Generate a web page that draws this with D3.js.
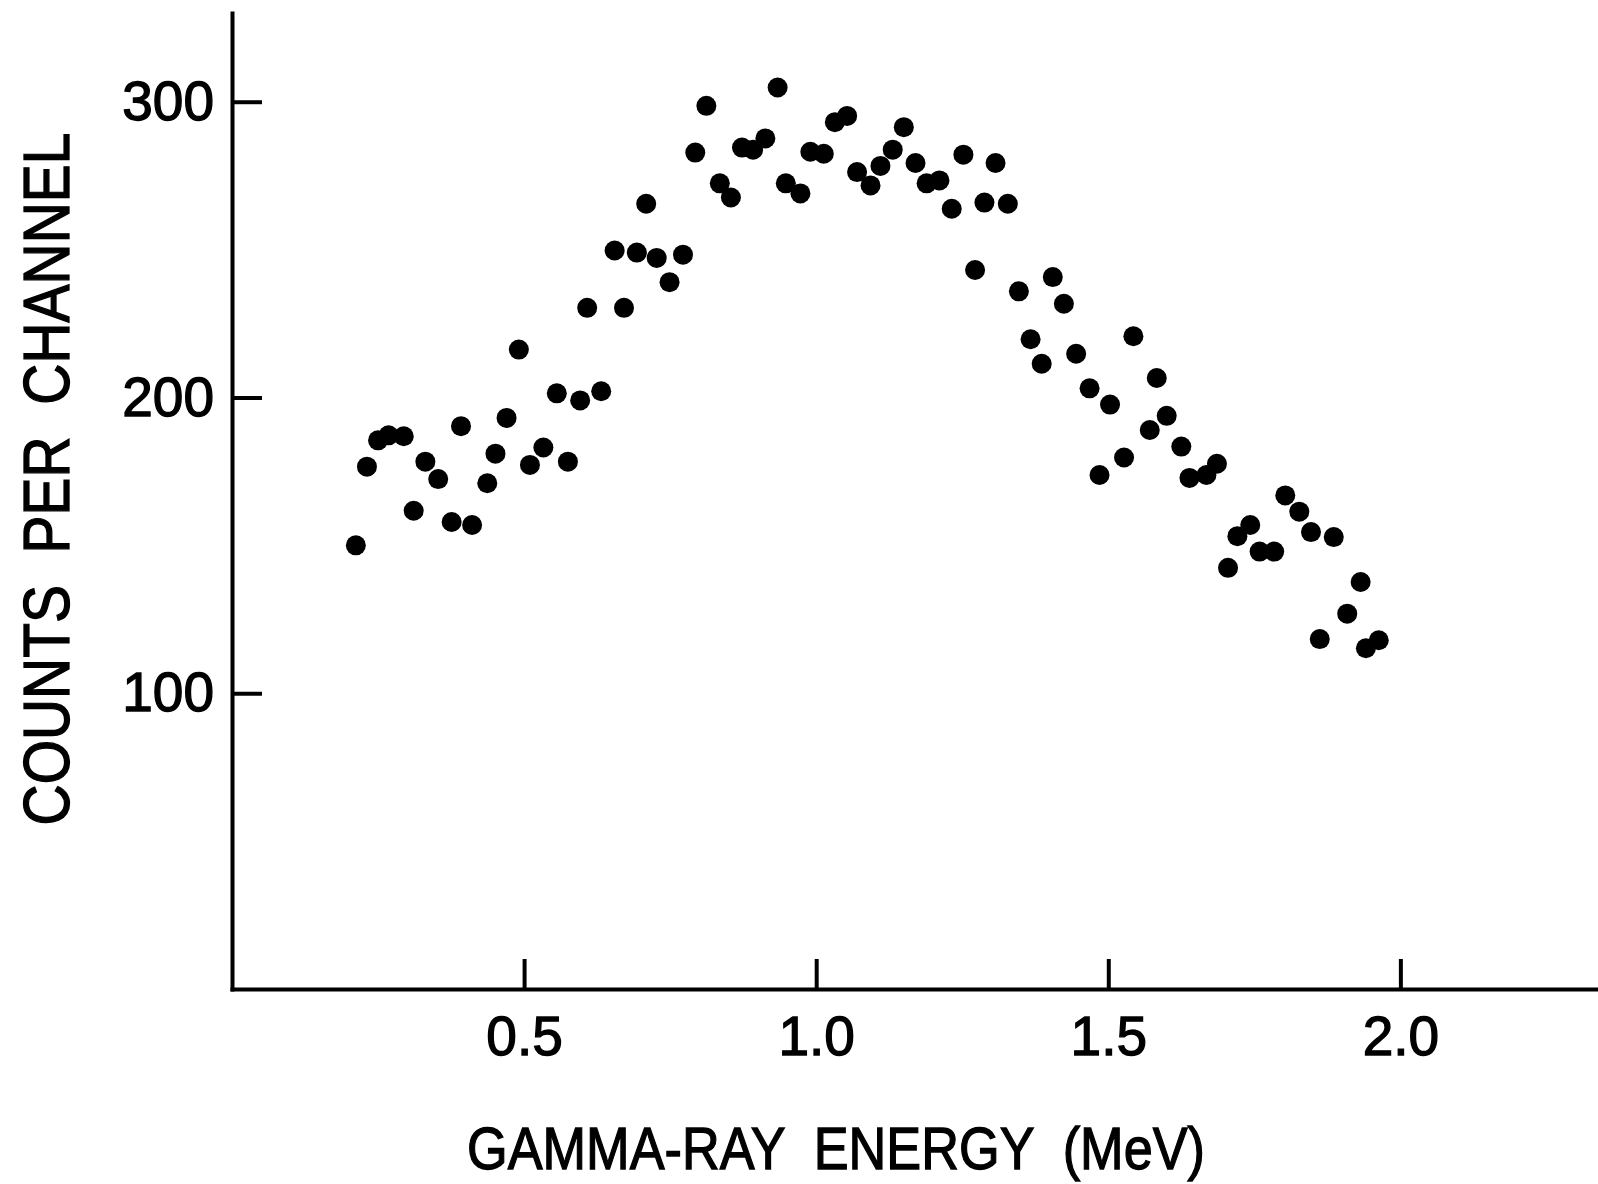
<!DOCTYPE html>
<html>
<head>
<meta charset="utf-8">
<script src="https://cdn.jsdelivr.net/npm/d3@7"></script>
<style>
  html, body { margin: 0; padding: 0; background: #fff; }
  svg { display: block; }
  text { font-family: "Liberation Sans", Arial, sans-serif; fill: #000; }
</style>
</head>
<body>
<svg id="chart" width="1598" height="1184"></svg>
<script>
// Gamma-ray energy (MeV) of each channel
const energy = [
  0.212, 0.231, 0.250, 0.268, 0.294, 0.311, 0.331, 0.353, 0.376, 0.392,
  0.411, 0.437, 0.451, 0.470, 0.491, 0.510, 0.533, 0.556, 0.575, 0.596,
  0.608, 0.632, 0.655, 0.671, 0.693, 0.709, 0.727, 0.749, 0.772, 0.793,
  0.812, 0.835, 0.854, 0.873, 0.892, 0.913, 0.934, 0.948, 0.973, 0.990,
  1.013, 1.032, 1.053, 1.070, 1.093, 1.110, 1.131, 1.150, 1.170, 1.189,
  1.211, 1.232, 1.252, 1.272, 1.288, 1.307, 1.328, 1.347, 1.367, 1.386,
  1.405, 1.424, 1.445, 1.468, 1.485, 1.503, 1.527, 1.543, 1.571, 1.583,
  1.600, 1.625, 1.639, 1.668, 1.686, 1.705, 1.721, 1.743, 1.759, 1.784,
  1.803, 1.827, 1.847, 1.862, 1.886, 1.909, 1.932, 1.941, 1.963
];
// Counts per channel
const counts = [
  150.0, 176.6, 185.5, 187.2, 186.9, 161.7, 178.3, 172.4, 157.9, 190.3,
  156.9, 171.0, 181.0, 193.1, 216.2, 177.2, 183.1, 201.4, 178.3, 199.0,
  230.3, 202.1, 249.7, 230.3, 249.0, 265.5, 247.2, 239.0, 248.3, 282.8,
  298.6, 272.4, 267.6, 284.5, 283.8, 287.6, 304.8, 272.4, 269.0, 283.1,
  282.4, 293.1, 295.2, 276.2, 271.7, 278.3, 283.8, 291.4, 279.3, 272.4,
  273.4, 263.8, 282.1, 243.1, 265.9, 279.3, 265.5, 235.9, 219.7, 211.4,
  240.7, 231.7, 214.8, 203.1, 173.8, 197.6, 179.7, 220.7, 189.0, 206.6,
  193.8, 183.4, 172.8, 173.8, 177.6, 142.4, 153.1, 156.9, 147.9, 147.9,
  166.9, 161.4, 154.5, 118.3, 152.8, 126.9, 137.6, 115.2, 117.9
];
const xTicks = [0.5, 1.0, 1.5, 2.0];
const yTicks = [100, 200, 300];
const xTitle = "GAMMA-RAY  ENERGY  (MeV)";
const yTitle = "COUNTS  PER  CHANNEL";

const data = energy.map((e, i) => ({ e, c: counts[i] }));

const svg = d3.select("#chart");
svg.append("rect").attr("width", 1598).attr("height", 1184).attr("fill", "#fff");

const x = d3.scaleLinear().domain([0, 2.34]).range([232, 1599]);
const y = d3.scaleLinear().domain([0, 330]).range([989, 13]);

// X axis
const gx = svg.append("g")
  .attr("transform", `translate(0,${y(0)})`)
  .call(d3.axisBottom(x).tickValues(xTicks).tickFormat(d3.format(".1f"))
    .tickSizeInner(-30).tickSizeOuter(0).tickPadding(27));
// Y axis
const gy = svg.append("g")
  .attr("transform", `translate(${x(0)},0)`)
  .call(d3.axisLeft(y).tickValues(yTicks).tickFormat(d3.format("d"))
    .tickSizeInner(-30).tickSizeOuter(0).tickPadding(18));

[gx, gy].forEach(g => {
  g.select(".domain").attr("stroke", "#000").attr("stroke-width", 4).attr("stroke-linecap", "square");
  g.selectAll(".tick line").attr("stroke", "#000").attr("stroke-width", 4);
  g.selectAll(".tick text")
    .attr("font-size", 55)
    .attr("font-family", '"Liberation Sans", Arial, sans-serif')
    .attr("fill", "#000")
    .attr("stroke", "#000").attr("stroke-width", 1.3);
});

// Points
svg.append("g").selectAll("circle")
  .data(data)
  .join("circle")
  .attr("cx", d => x(d.e))
  .attr("cy", d => y(d.c))
  .attr("r", 10)
  .attr("fill", "#000");

// Axis titles
svg.append("text")
  .attr("x", 836).attr("y", 1169)
  .attr("text-anchor", "middle")
  .attr("font-size", 60)
  .attr("stroke", "#000").attr("stroke-width", 1.3)
  .attr("textLength", 738).attr("lengthAdjust", "spacingAndGlyphs")
  .style("white-space", "pre")
  .text(xTitle);

svg.append("text")
  .attr("transform", "translate(69,479) rotate(-90)")
  .attr("text-anchor", "middle")
  .attr("font-size", 64)
  .attr("stroke", "#000").attr("stroke-width", 1.3)
  .attr("textLength", 693).attr("lengthAdjust", "spacingAndGlyphs")
  .style("white-space", "pre")
  .text(yTitle);
</script>
</body>
</html>
